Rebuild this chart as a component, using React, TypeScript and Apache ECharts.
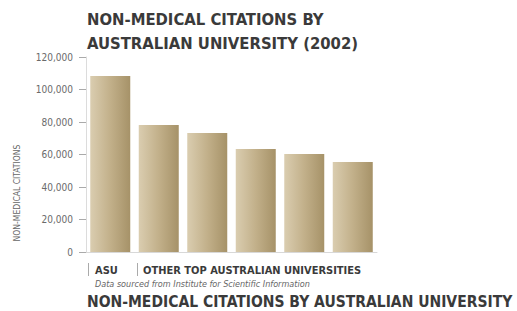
import React, { useEffect, useRef } from "react";
import * as echarts from "echarts";

const categories = ["ASU", "U2", "U3", "U4", "U5", "U6"];
const citations = [108300, 78200, 73200, 63400, 60300, 55400];
const yTicks = { min: 0, max: 120000, interval: 20000 };
const titleLines = ["NON-MEDICAL CITATIONS BY", "AUSTRALIAN UNIVERSITY (2002)"];
const groupLabels = ["ASU", "OTHER TOP AUSTRALIAN UNIVERSITIES"];
const sourceNote = "Data sourced from Institute for Scientific Information";
const footerTitle = "NON-MEDICAL CITATIONS BY AUSTRALIAN UNIVERSITY";
const yAxisTitle = "NON-MEDICAL CITATIONS";

export default function App() {
  const ref = useRef<HTMLDivElement>(null);
  useEffect(() => {
    document.body.style.margin = "0";
    const chart = echarts.init(ref.current!, null, { renderer: "svg" });
    const font = "'DejaVu Sans Condensed', 'Liberation Sans Narrow', sans-serif";
    const barGrad = new echarts.graphic.LinearGradient(0, 0, 1, 0, [
      { offset: 0, color: "#dacdb0" },
      { offset: 0.5, color: "#c2b08a" },
      { offset: 1, color: "#a69268" },
    ]);
    chart.setOption({
      animation: false,
      backgroundColor: "#ffffff",
      grid: { left: 86, right: 140, top: 57, bottom: 59 },
      xAxis: {
        type: "category",
        data: categories,
        axisLabel: { show: false },
        axisTick: { show: false },
        axisLine: { lineStyle: { color: "#d8d8d8", width: 1 } },
      },
      yAxis: {
        type: "value",
        min: yTicks.min,
        max: yTicks.max,
        interval: yTicks.interval,
        splitLine: { show: false },
        axisLine: { show: true, lineStyle: { color: "#dcdcdc", width: 1 } },
        axisTick: { show: true, length: 7, lineStyle: { color: "#aaaaaa" } },
        axisLabel: {
          fontFamily: font,
          fontSize: 10,
          color: "#6a6a6a",
          margin: 13,
          formatter: (v: number) => (v === 0 ? "0" : v.toLocaleString("en-US")),
        },
      },
      series: [
        {
          type: "bar",
          data: citations,
          barWidth: 40,
          itemStyle: { color: barGrad },
        },
      ],
      graphic: [
        {
          type: "text",
          x: 87,
          y: 19,
          style: { text: titleLines[0], font: `bold 16.5px ${font}`, fill: "#3a3a3a", verticalAlign: "middle" },
        },
        {
          type: "text",
          x: 87,
          y: 43,
          style: { text: titleLines[1], font: `bold 16.5px ${font}`, fill: "#3a3a3a", verticalAlign: "middle" },
        },
        {
          type: "text",
          x: 17,
          y: 193,
          rotation: Math.PI / 2,
          style: {
            text: yAxisTitle,
            font: `8.5px ${font}`,
            fill: "#666666",
            align: "center",
            verticalAlign: "middle",
          },
        },
        { type: "rect", shape: { x: 88, y: 263, width: 1, height: 13 }, style: { fill: "#aaa" } },
        {
          type: "text",
          x: 95,
          y: 270,
          style: { text: groupLabels[0], font: `bold 11px ${font}`, fill: "#3a3a3a", verticalAlign: "middle" },
        },
        { type: "rect", shape: { x: 137, y: 263, width: 1, height: 13 }, style: { fill: "#aaa" } },
        {
          type: "text",
          x: 143,
          y: 270,
          style: { text: groupLabels[1], font: `bold 11px ${font}`, fill: "#3a3a3a", verticalAlign: "middle" },
        },
        {
          type: "text",
          x: 95,
          y: 284,
          style: { text: sourceNote, font: `italic 9px ${font}`, fill: "#666666", verticalAlign: "middle" },
        },
        {
          type: "text",
          x: 87,
          y: 302,
          style: { text: footerTitle, font: `bold 15.5px ${font}`, fill: "#3a3a3a", verticalAlign: "middle" },
        },
      ],
    });
    return () => chart.dispose();
  }, []);
  return <div ref={ref} style={{ width: 517, height: 311 }} />;
}
